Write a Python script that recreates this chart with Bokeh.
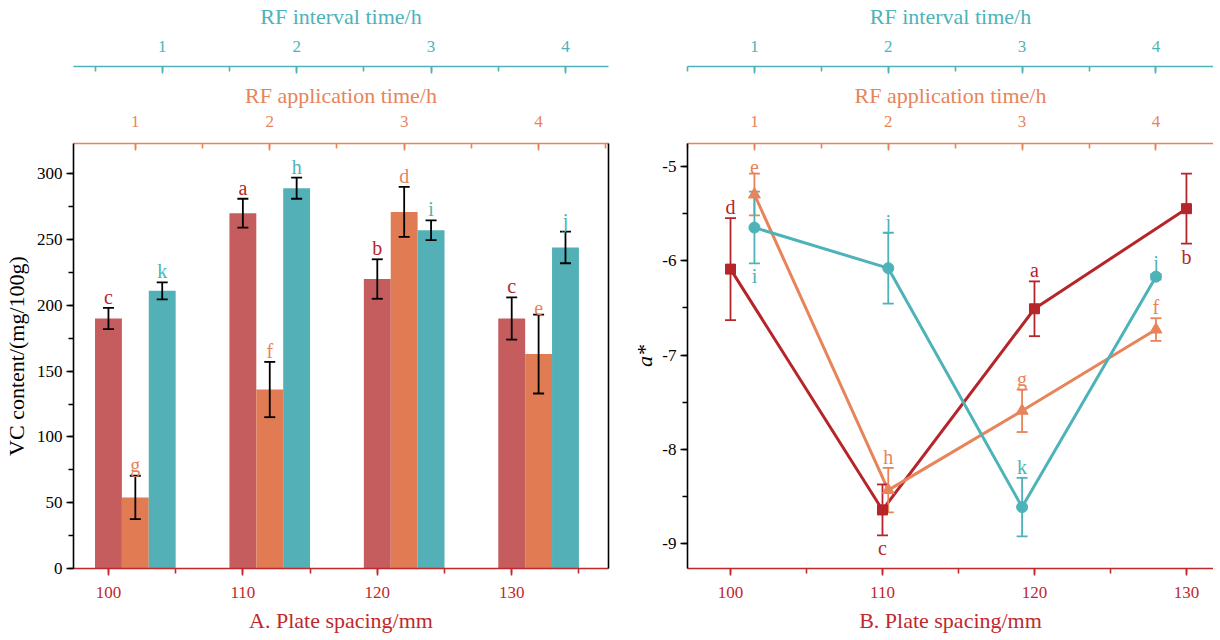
from bokeh.plotting import figure
from bokeh.models import Range1d, LinearAxis, SingleIntervalTicker, FixedTicker, PrintfTickFormatter
from bokeh.layouts import row
from bokeh.embed import file_html
from bokeh.resources import INLINE
from bokeh.core.properties import value

# ---------------- data ----------------
spacing = [100, 110, 120, 130]          # plate spacing / mm
rf_time = [1, 2, 3, 4]                  # RF application / interval time / h

vc_spacing = [190, 270, 220, 190]
vc_spacing_err = [8, 11, 15, 16]
vc_spacing_sig = ["c", "a", "b", "c"]
vc_app = [54, 136, 271, 163]
vc_app_err = [16.5, 21, 19, 30]
vc_app_sig = ["g", "f", "d", "e"]
vc_int = [211, 289, 257, 244]
vc_int_err = [6.5, 8, 7.5, 12]
vc_int_sig = ["k", "h", "i", "j"]

a_spacing = [-6.09, -8.64, -6.51, -5.45]
a_spacing_err = [0.54, 0.27, 0.29, 0.37]
a_spacing_sig = ["d", "c", "a", "b"]
a_spacing_pos = ["above", "below", "above", "below"]
a_app = [-5.30, -8.43, -7.59, -6.73]
a_app_err = [0.22, 0.235, 0.225, 0.12]
a_app_sig = ["e", "h", "g", "f"]
a_app_pos = ["above", "above", "above", "above"]
a_int = [-5.65, -6.08, -8.61, -6.17]
a_int_err = [0.38, 0.375, 0.31, 0.03]
a_int_sig = ["i", "j", "k", "j"]
a_int_pos = ["below", "above", "above", "above"]

# ---------------- style ----------------
FONT = "Liberation Serif"
TICK_FS = "17px"
TITLE_FS = "22px"
LET_FS = "20px"
RED_BAR = "#C55D5F"
ORA_BAR = "#E07B53"
TEA_BAR = "#52B0B6"
RED = "#B5252A"
ORA = "#E8845A"
TEA = "#4DB3B8"
RED_AX = "#C0282D"


def style_axis(ax, color, label=None, tick_in=False, lab_so=10, tit_so=6):
    ax.axis_line_color = color
    ax.axis_line_width = 1.6
    ax.major_tick_line_color = color
    ax.minor_tick_line_color = color
    ax.major_tick_line_width = 1.6
    ax.minor_tick_line_width = 1.6
    if tick_in:
        ax.major_tick_in, ax.major_tick_out = 7, 0
        ax.minor_tick_in, ax.minor_tick_out = 5, 0
    else:
        ax.major_tick_in, ax.major_tick_out = 0, 7
        ax.minor_tick_in, ax.minor_tick_out = 0, 5
    ax.major_label_text_color = color
    ax.major_label_text_font = FONT
    ax.major_label_text_font_size = TICK_FS
    ax.major_label_standoff = lab_so
    if label is not None:
        ax.axis_label = label
        ax.axis_label_text_color = color
        ax.axis_label_text_font = FONT
        ax.axis_label_text_font_size = TITLE_FS
        ax.axis_label_text_font_style = "normal"
        ax.axis_label_standoff = tit_so


def gap_axis(rng, pos, size):
    # invisible spacer axis: one hidden tick whose outward length sets the gap
    g = LinearAxis(x_range_name=rng, ticker=FixedTicker(ticks=[pos], minor_ticks=[]))
    g.axis_line_color = None
    g.major_tick_line_color = None
    g.minor_tick_line_color = None
    g.major_tick_in = 0
    g.major_tick_out = size
    g.minor_tick_in = 0
    g.minor_tick_out = 0
    g.major_label_standoff = 0
    g.major_label_overrides = {pos: ""}
    return g


def border_axis(pos):
    # plain black frame edge without ticks or labels
    b = LinearAxis(ticker=FixedTicker(ticks=[pos], minor_ticks=[]))
    b.axis_line_color = "black"
    b.axis_line_width = 1.6
    b.major_tick_line_color = None
    b.minor_tick_line_color = None
    b.major_tick_in = 0
    b.major_tick_out = 0
    b.minor_tick_in = 0
    b.minor_tick_out = 0
    b.major_label_standoff = 0
    b.major_label_overrides = {pos: ""}
    return b


def errbars(p, xs, ys, errs, color, lw, cap, rng="default"):
    lo = [y - e for y, e in zip(ys, errs)]
    hi = [y + e for y, e in zip(ys, errs)]
    p.segment(x0=xs, y0=lo, x1=xs, y1=hi, line_color=color, line_width=lw, x_range_name=rng)
    p.scatter(x=xs + xs, y=lo + hi, marker="dash", size=cap, line_color=color,
              line_width=lw, x_range_name=rng)


def letters(p, xs, ys, errs, sig, pos, color, rng="default"):
    for x, y, e, s, ps in zip(xs, ys, errs, sig, pos):
        if ps == "above":
            p.text(x=[x], y=[y + e], text=[s], text_font=value(FONT), text_font_size=LET_FS,
                   text_color=color, text_align="center", text_baseline="bottom",
                   y_offset=0, x_range_name=rng)
        else:
            p.text(x=[x], y=[y - e], text=[s], text_font=value(FONT), text_font_size=LET_FS,
                   text_color=color, text_align="center", text_baseline="top",
                   y_offset=2, x_range_name=rng)


def top_axes(p, rng_app, rng_int):
    app = LinearAxis(x_range_name=rng_app, ticker=SingleIntervalTicker(interval=1, num_minor_ticks=2))
    style_axis(app, ORA, "RF application time/h", tick_in=True, lab_so=17, tit_so=5)
    itv = LinearAxis(x_range_name=rng_int, ticker=SingleIntervalTicker(interval=1, num_minor_ticks=2))
    style_axis(itv, TEA, "RF interval time/h", tick_in=True, lab_so=15, tit_so=9)
    p.add_layout(app, "above")
    p.add_layout(gap_axis(rng_app, 2.5, 13), "above")
    p.add_layout(itv, "above")


FH = 425

# ================= Panel A =================
p1 = figure(frame_width=535, frame_height=FH,
            x_range=Range1d(97.4, 137.2), y_range=Range1d(0, 323),
            output_backend="svg", toolbar_location=None,
            min_border_left=0, min_border_right=21, min_border_top=0, min_border_bottom=0)
p1.extra_x_ranges = {"app": Range1d(0.54, 4.52), "int": Range1d(0.34, 4.32)}
p1.xgrid.visible = False
p1.ygrid.visible = False
p1.outline_line_color = None

p1.vbar(x=spacing, top=vc_spacing, width=2.0, bottom=0, fill_color=RED_BAR, line_color=None)
p1.vbar(x=rf_time, top=vc_app, width=0.2, bottom=0, fill_color=ORA_BAR, line_color=None,
        x_range_name="app")
p1.vbar(x=rf_time, top=vc_int, width=0.2, bottom=0, fill_color=TEA_BAR, line_color=None,
        x_range_name="int")

errbars(p1, spacing, vc_spacing, vc_spacing_err, "black", 1.8, 11)
errbars(p1, rf_time, vc_app, vc_app_err, "black", 1.8, 11, "app")
errbars(p1, rf_time, vc_int, vc_int_err, "black", 1.8, 11, "int")
letters(p1, spacing, vc_spacing, vc_spacing_err, vc_spacing_sig, ["above"] * 4, RED)
letters(p1, rf_time, vc_app, vc_app_err, vc_app_sig, ["above"] * 4, ORA, "app")
letters(p1, rf_time, vc_int, vc_int_err, vc_int_sig, ["above"] * 4, TEA, "int")

xa = p1.xaxis[0]
xa.ticker = SingleIntervalTicker(interval=10, num_minor_ticks=2)
style_axis(xa, RED_AX, "A. Plate spacing/mm", lab_so=11, tit_so=7)
ya = p1.yaxis[0]
ya.ticker = SingleIntervalTicker(interval=50, num_minor_ticks=2)
style_axis(ya, "black", "VC content/(mg/100g)", lab_so=4, tit_so=5)
top_axes(p1, "app", "int")
p1.add_layout(border_axis(100), "right")

# ================= Panel B =================
p2 = figure(frame_width=526, frame_height=FH,
            x_range=Range1d(97.17, 131.78), y_range=Range1d(-9.26, -4.76),
            output_backend="svg", toolbar_location=None,
            min_border_left=0, min_border_right=0, min_border_top=0, min_border_bottom=0)
p2.extra_x_ranges = {"time": Range1d(0.5, 4.43)}
p2.xgrid.visible = False
p2.ygrid.visible = False
p2.outline_line_color = None

p2.line(x=spacing, y=a_spacing, line_color=RED, line_width=3)
p2.line(x=rf_time, y=a_app, line_color=ORA, line_width=3, x_range_name="time")
p2.line(x=rf_time, y=a_int, line_color=TEA, line_width=3, x_range_name="time")

errbars(p2, spacing, a_spacing, a_spacing_err, RED, 1.8, 11)
errbars(p2, rf_time, a_app, a_app_err, ORA, 1.8, 11, "time")
errbars(p2, rf_time, a_int, a_int_err, TEA, 1.8, 11, "time")

p2.scatter(x=spacing, y=a_spacing, marker="square", size=10, fill_color=RED, line_color=RED)
p2.scatter(x=rf_time, y=a_app, marker="triangle", size=12, fill_color=ORA, line_color=ORA,
           x_range_name="time")
p2.scatter(x=rf_time, y=a_int, marker="circle", size=11, fill_color=TEA, line_color=TEA,
           x_range_name="time")

letters(p2, spacing, a_spacing, a_spacing_err, a_spacing_sig, a_spacing_pos, RED)
letters(p2, rf_time, a_app, a_app_err, a_app_sig, a_app_pos, ORA, "time")
letters(p2, rf_time, a_int, a_int_err, a_int_sig, a_int_pos, TEA, "time")

xb = p2.xaxis[0]
xb.ticker = SingleIntervalTicker(interval=10, num_minor_ticks=2)
style_axis(xb, RED_AX, "B. Plate spacing/mm", lab_so=11, tit_so=7)
yb = p2.yaxis[0]
yb.ticker = SingleIntervalTicker(interval=1, num_minor_ticks=2)
yb.formatter = PrintfTickFormatter(format="%d")
style_axis(yb, "black", "a*", lab_so=4, tit_so=2)
yb.axis_label_text_font_style = "italic"
top_axes(p2, "time", "time")

layout = row(p1, p2)
open("out.html", "w").write(file_html(layout, INLINE))
